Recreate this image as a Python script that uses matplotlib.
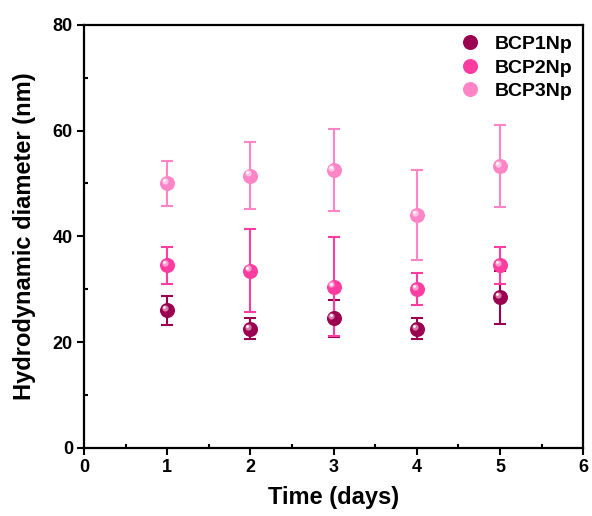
import matplotlib
matplotlib.use("Agg")
import matplotlib.pyplot as plt
import matplotlib.transforms as mtransforms
from matplotlib.lines import Line2D
from matplotlib.ticker import MultipleLocator

plt.rcParams['font.family'] = ['Liberation Sans', 'DejaVu Sans']
plt.rcParams['font.weight'] = 'bold'

days = [1, 2, 3, 4, 5]
series_names = ["BCP1Np", "BCP2Np", "BCP3Np"]
bcp1_mean = [26.0, 22.5, 24.5, 22.5, 28.5]
bcp1_err = [2.8, 2.0, 3.5, 2.0, 5.0]
bcp2_mean = [34.5, 33.5, 30.5, 30.0, 34.5]
bcp2_err = [3.5, 7.8, 9.3, 3.0, 3.5]
bcp3_mean = [50.0, 51.5, 52.5, 44.0, 53.3]
bcp3_err = [4.2, 6.4, 7.8, 8.5, 7.7]

colors = ["#9b0050", "#ff3da0", "#ff85c6"]
highlights = ["#d97aa8", "#ff9fd0", "#ffc6e6"]

fig = plt.figure(figsize=(5.92, 5.16), dpi=100)
ax = fig.add_axes([0.142, 0.132, 0.843, 0.820])

means = [bcp1_mean, bcp2_mean, bcp3_mean]
errs = [bcp1_err, bcp2_err, bcp3_err]

off = mtransforms.ScaledTranslation(-1.6/72, 1.6/72, fig.dpi_scale_trans)
off2 = mtransforms.ScaledTranslation(-2.2/72, 2.2/72, fig.dpi_scale_trans)
for i in range(3):
    ax.errorbar(days, means[i], yerr=errs[i], fmt='none', ecolor=colors[i],
                elinewidth=1.5, capsize=4.5, capthick=1.5, zorder=2)
for i in range(3):
    ax.plot(days, means[i], 'o', color=colors[i], markersize=10.8,
            markeredgewidth=0, zorder=3)
    ax.plot(days, means[i], 'o', color=highlights[i], markersize=4.5,
            markeredgewidth=0, zorder=4, transform=ax.transData + off)
    ax.plot(days, means[i], 'o', color='white', markersize=2,
            markeredgewidth=0, zorder=5, transform=ax.transData + off2)

ax.set_xlim(0, 6)
ax.set_ylim(0, 80)
ax.xaxis.set_major_locator(MultipleLocator(1))
ax.xaxis.set_minor_locator(MultipleLocator(0.5))
ax.yaxis.set_major_locator(MultipleLocator(20))
ax.yaxis.set_minor_locator(MultipleLocator(10))
ax.tick_params(which='major', direction='out', length=5, width=1.5,
               labelsize=13, pad=3)
ax.tick_params(which='minor', direction='in', length=3, width=1.5)
for lab in ax.get_xticklabels() + ax.get_yticklabels():
    lab.set_fontweight('bold')
for s in ax.spines.values():
    s.set_linewidth(1.6)

ax.set_xlabel("Time (days)", fontsize=17, fontweight='bold', labelpad=7)
ax.set_ylabel("Hydrodynamic diameter (nm)", fontsize=17, fontweight='bold', labelpad=12)

handles = [Line2D([], [], marker='o', linestyle='none', color=colors[i],
                  markersize=10.8, markeredgewidth=0) for i in range(3)]
leg = ax.legend(handles, series_names, loc='upper right', frameon=False,
                fontsize=14, handletextpad=0.5, labelspacing=0.3,
                borderaxespad=0.15, handlelength=1.5)
for t in leg.get_texts():
    t.set_fontweight('bold')

fig.savefig("out.png", dpi=100)
